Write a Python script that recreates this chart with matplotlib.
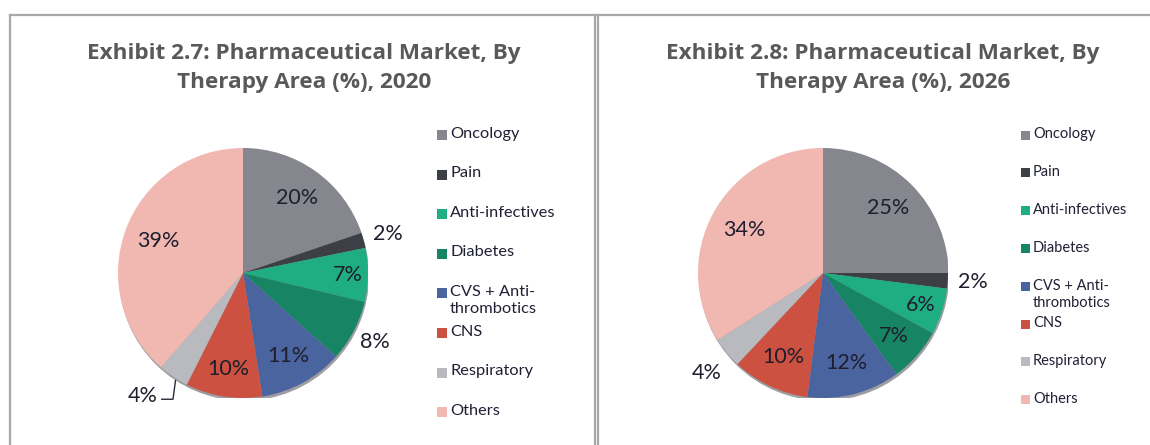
import matplotlib
matplotlib.use("Agg")
import matplotlib.pyplot as plt
from matplotlib.lines import Line2D
from matplotlib.patches import Rectangle, Circle
import numpy as np

plt.rcParams['font.family'] = ['Lato', 'DejaVu Sans']

categories = ["Oncology", "Pain", "Anti-infectives", "Diabetes",
              "CVS + Anti-\nthrombotics", "CNS", "Respiratory", "Others"]
values_2020 = [20, 2, 7, 8, 11, 10, 4, 39]
values_2026 = [25, 2, 6, 7, 12, 10, 4, 34]
titles = ["Exhibit 2.7: Pharmaceutical Market, By\nTherapy Area (%), 2020",
          "Exhibit 2.8: Pharmaceutical Market, By\nTherapy Area (%), 2026"]

colors = ["#86868e", "#3d3f47", "#1fae82", "#178563",
          "#4a64a0", "#cc5140", "#b9b9c0", "#f1b8b2"]

W, H = 1150, 445
fig = plt.figure(figsize=(W / 100, H / 100), dpi=100)
fig.patch.set_facecolor("white")

def fx(x):
    return x / W

def fy(y):
    return 1 - y / H

bc = "#a8a8a8"
for (x0, y0, x1, y1) in [(10, 15, 1150, 15), (10, 15, 10, 445),
                         (595, 15, 595, 445), (598, 15, 598, 445)]:
    fig.add_artist(Line2D([fx(x0), fx(x1)], [fy(y0), fy(y1)],
                          color=bc, lw=1.6, transform=fig.transFigure))

label_col = "#1e1e2e"

dist_2020 = [0.74, 1.20, 0.84, 1.19, 0.76, 0.78, 1.28, 0.72]
dist_2026 = [0.74, 1.20, 0.82, 0.76, 0.74, 0.74, 1.25, 0.72]

panels = [
    dict(vals=values_2020, cx=243, cy=273, r=125, dist=dist_2020,
         title_x=304, legx=437, legy0=135, legdy=39.6, legfs=11.8, sq=10,
         title=titles[0], labfs=15.5),
    dict(vals=values_2026, cx=823, cy=273, r=125, dist=dist_2026,
         title_x=883, legx=1021, legy0=135, legdy=37.8, legfs=10.5, sq=9,
         title=titles[1], labfs=15.5),
]

for i, p in enumerate(panels):
    cx, cy, r = p["cx"], p["cy"], p["r"]
    ax = fig.add_axes([fx(cx - r), fy(cy + r), 2 * r / W, 2 * r / H])
    ax.add_patch(Circle((0.008, -0.022), 1.0, facecolor="#3a3a44",
                        edgecolor="none", alpha=0.5, zorder=0))
    wedges, _ = ax.pie(p["vals"], colors=colors, startangle=90,
                       counterclock=False, radius=1.0,
                       wedgeprops=dict(linewidth=0, zorder=1))
    ax.set_xlim(-1, 1)
    ax.set_ylim(-1, 1)
    ax.set_aspect("equal")
    ax.axis("off")
    for k, w in enumerate(wedges):
        ang = np.deg2rad((w.theta1 + w.theta2) / 2)
        d = p["dist"][k]
        tx, ty = d * np.cos(ang), d * np.sin(ang)
        if i == 0 and k == 6:
            tx, ty = -0.80, -0.98
            ax.plot([tx + 0.15, tx + 0.24, tx + 0.26], [ty - 0.03, ty - 0.03, ty + 0.12],
                    color="#2a2a3a", lw=1.0, clip_on=False)
        if i == 1 and k == 6:
            tx, ty = -0.93, -0.80
        ax.text(tx, ty, f"{p['vals'][k]}%", ha="center", va="center",
                fontsize=p["labfs"], color=label_col, zorder=3)

    fig.text(fx(p["title_x"]), fy(68), p["title"], ha="center", va="center",
             fontsize=16.2, fontweight="bold", color="#595959", linespacing=1.5,
             family=["Open Sans", "DejaVu Sans"])

    ys = []
    y = p["legy0"]
    for k, c in enumerate(categories):
        ys.append(y)
        y += p["legdy"]
    for k, c in enumerate(categories):
        yy = ys[k]
        sq = p["sq"]
        fig.add_artist(Rectangle((fx(p["legx"]), fy(yy + sq / 2)), sq / W, sq / H,
                                 facecolor=colors[k], edgecolor="none",
                                 transform=fig.transFigure))
        fig.text(fx(p["legx"] + sq + 3), fy(yy - p["legfs"] * 0.72), c,
                 ha="left", va="top", fontsize=p["legfs"], color="#202035",
                 linespacing=1.3)

fig.savefig("out.png", dpi=100, facecolor="white")
